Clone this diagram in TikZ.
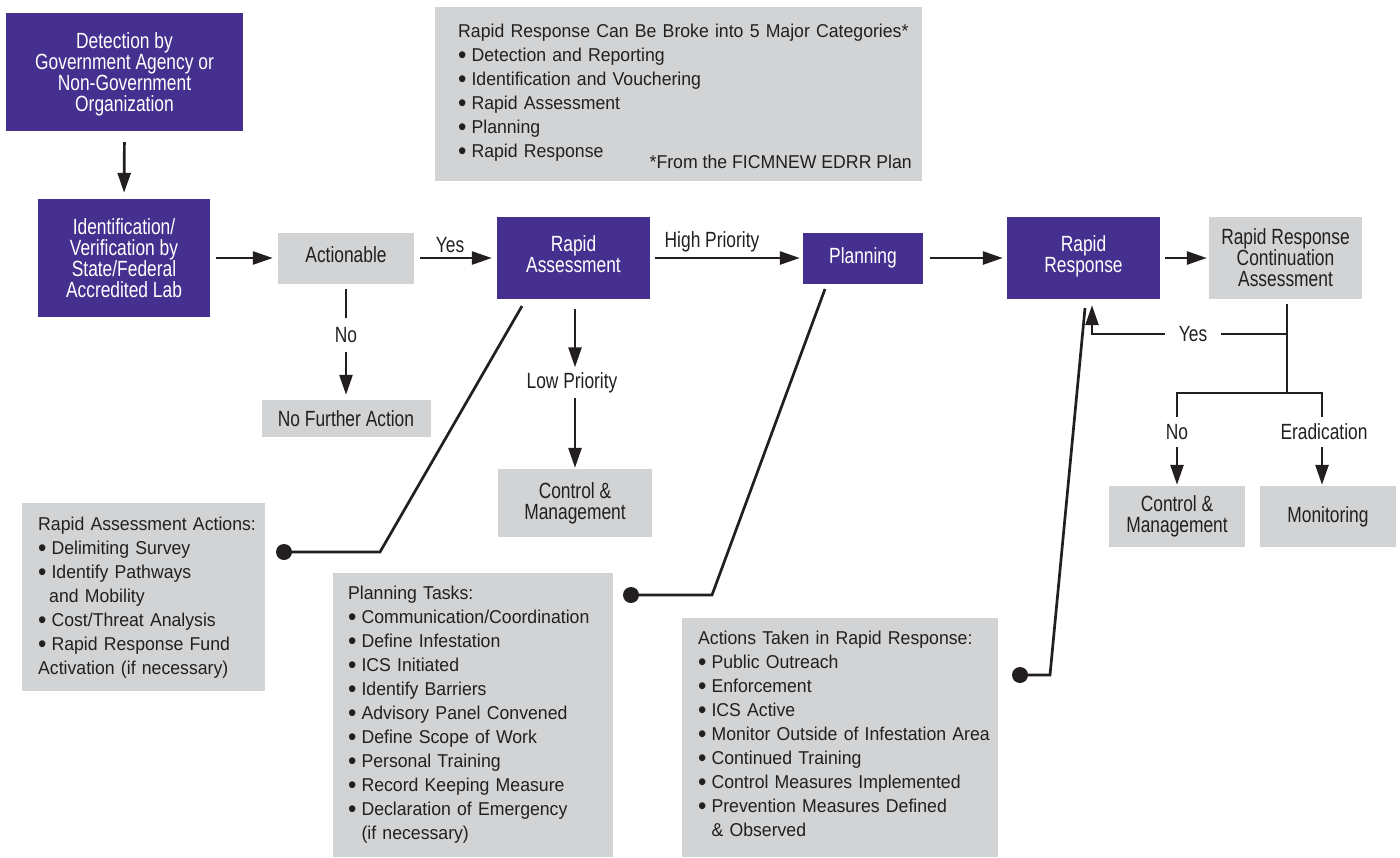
\documentclass[tikz,border=0pt]{standalone}
\usepackage{fontspec}
\setmainfont{Liberation Sans}
\newfontfamily\flowfont[FakeStretch=0.79]{Liberation Sans}
\newfontfamily\listfont[FakeStretch=0.95]{Liberation Sans}
\usetikzlibrary{arrows.meta}
\definecolor{pur}{HTML}{46308F}
\definecolor{gry}{HTML}{D1D3D4}
\definecolor{ink}{HTML}{231F20}
\newcommand\bul{\raisebox{-1.6pt}{\scalebox{1.35}{•}}\hspace{5pt}}
\newcommand\bulgap{\hphantom{\bul}}
\begin{document}
\begin{tikzpicture}[x=1pt,y=-1pt,
  flow/.style={font=\flowfont\fontsize{22}{21}\selectfont, align=center, inner sep=0pt, text=ink},
  purbox/.style={flow, fill=pur, text=white},
  grybox/.style={flow, fill=gry},
  panel/.style={fill=gry, inner sep=0pt, anchor=north west},
  listtxt/.style={font=\listfont\fontsize{18.6}{24}\selectfont, align=left, inner sep=0pt, anchor=north west, text=ink, text width=#1},
  lbl/.style={flow},
  ln/.style={line width=2.7pt, draw=ink},
  arr/.style={ln, -{Triangle[length=20pt,width=13pt]}},
  dot/.style={circle, fill=ink, minimum size=16pt, inner sep=0pt},
]
\useasboundingbox (0,0) rectangle (1400,857);

% flow boxes
\node[purbox, minimum width=237, minimum height=118, text depth=-3.5pt] (det) at (124.5,72) {Detection by\\Government Agency or\\Non-Government\\Organization};
\node[purbox, minimum width=172, minimum height=118] (ident) at (124,258) {Identification/\\Verification by\\State/Federal\\Accredited Lab};
\node[grybox, minimum width=136, minimum height=51, text depth=6pt] (act) at (346,258) {Actionable};
\node[grybox, minimum width=169, minimum height=37] (nfa) at (346,418.5) {No Further Action};
\node[purbox, minimum width=153, minimum height=82, text depth=8pt] (ra) at (573.5,258) {Rapid\\Assessment};
\node[grybox, minimum width=154, minimum height=68] (cm1) at (575,503) {Control \&\\Management};
\node[purbox, minimum width=120, minimum height=51] (plan) at (863,258) {Planning};
\node[purbox, minimum width=153, minimum height=82, text depth=8pt] (rr) at (1083.5,258) {Rapid\\Response};
\node[grybox, minimum width=153, minimum height=82] (rrc) at (1285.5,258) {Rapid Response\\Continuation\\Assessment};
\node[grybox, minimum width=136, minimum height=61] (cm2) at (1177,516.5) {Control \&\\Management};
\node[grybox, minimum width=136, minimum height=61] (mon) at (1328,516.5) {Monitoring};

% panels
\node[panel, minimum width=487, minimum height=174] (cat) at (435,7) {};
\node[listtxt=470] (catt) at (458,24) {Rapid Response Can Be Broke into 5 Major Categories*\\\bul Detection and Reporting\\\bul Identification and Vouchering\\\bul Rapid Assessment\\\bul Planning\\\bul Rapid Response};
\node[font=\listfont\fontsize{18.6}{24}\selectfont, text=ink, anchor=east, inner sep=0pt] (foot) at (912,162) {*From the FICMNEW EDRR Plan};

\node[panel, minimum width=243, minimum height=188] (raa) at (22,503) {};
\node[listtxt=236] (raat) at (38,517) {Rapid Assessment Actions:\\\bul Delimiting Survey\\\bul Identify Pathways\\\hspace*{11pt}and Mobility\\\bul Cost/Threat Analysis\\\bul Rapid Response Fund\\Activation (if necessary)};

\node[panel, minimum width=280, minimum height=284] (pt) at (333,573) {};
\node[listtxt=270] (ptt) at (348,586) {Planning Tasks:\\\bul Communication/Coordination\\\bul Define Infestation\\\bul ICS Initiated\\\bul Identify Barriers\\\bul Advisory Panel Convened\\\bul Define Scope of Work\\\bul Personal Training\\\bul Record Keeping Measure\\\bul Declaration of Emergency\\\bulgap(if necessary)};

\node[panel, minimum width=316, minimum height=239] (atr) at (682,618) {};
\node[listtxt=310] (atrt) at (698,631) {Actions Taken in Rapid Response:\\\bul Public Outreach\\\bul Enforcement\\\bul ICS Active\\\bul Monitor Outside of Infestation Area\\\bul Continued Training\\\bul Control Measures Implemented\\\bul Prevention Measures Defined\\\bulgap\& Observed};

% labels
\node[lbl] (yes1) at (450,245) {Yes};
\node[lbl, minimum height=34] (no1) at (346,335) {No};
\node[lbl, minimum height=29] (lowp) at (572,383) {Low Priority};
\node[lbl] (highp) at (712,242) {High Priority};
\node[lbl, minimum width=56] (yes2) at (1193,334) {Yes};
\node[lbl, minimum height=30] (no2) at (1177,432) {No};
\node[lbl, minimum height=30] (erad) at (1324,432) {Eradication};

% connectors
\draw[arr, shorten <=11pt, shorten >=6pt] (det.south) -- (ident.north);
\draw[arr, shorten <=6pt, shorten >=5pt] (ident) -- (act);
\draw[arr, shorten <=6pt, shorten >=5pt] (act) -- (ra);
\draw[ln, shorten <=5pt] (act.south) -- (no1.north);
\draw[arr, shorten >=5pt] (no1.south) -- (nfa.north);
\draw[arr, shorten <=10pt, shorten >=1pt] (ra.south -| cm1) -- (lowp.north -| cm1);
\draw[arr, shorten >=1pt] (lowp.south -| cm1) -- (cm1.north);
\draw[arr, shorten <=5pt, shorten >=3pt] (ra) -- (plan);
\draw[arr, shorten <=7pt, shorten >=4pt] (plan) -- (rr);
\draw[arr, shorten <=5pt, shorten >=2pt] (rr) -- (rrc);

\coordinate (jy) at (1287,334);
\coordinate (jb) at (1287,393);
\coordinate (bl) at (1177,393);
\coordinate (br) at (1322,393);
\coordinate (yc) at (1092,334);
\draw[ln, shorten <=5pt] (rrc.south -| jb) -- (jb);
\draw[ln] (jy) -- (yes2.east);
\draw[arr, shorten >=6pt] (yes2.west) -- (yc) -- (yc |- rr.south);
\draw[ln] (no2.north) -- (bl) -- (br) -- (br |- erad.north);
\draw[arr, shorten >=1pt] (no2.south) -- (cm2.north);
\draw[arr, shorten >=1pt] (br |- erad.south) -- (br |- mon.north);

% callout connectors
\node[dot] (d1) at (284,552) {};
\node[dot] (d2) at (631,595) {};
\node[dot] (d3) at (1020,675) {};
\coordinate (k1) at (380,552); \coordinate (e1) at (522,306);
\coordinate (k2) at (712,595); \coordinate (e2) at (825,289);
\coordinate (k3) at (1050,675); \coordinate (e3) at (1085,308);
\draw[ln] (d1.center) -- (k1) -- (e1);
\draw[ln] (d2.center) -- (k2) -- (e2);
\draw[ln] (d3.center) -- (k3) -- (e3);
\end{tikzpicture}
\end{document}
